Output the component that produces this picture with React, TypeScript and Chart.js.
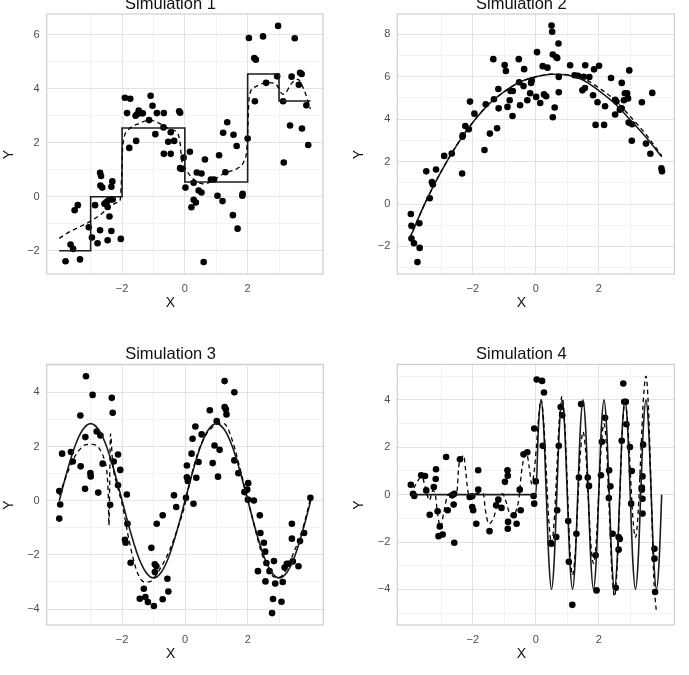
import React, { useEffect, useRef } from "react";
import { Chart, registerables } from "chart.js";

Chart.register(...registerables);

type Pt = [number, number];

// ---------- Simulation 1: step function ----------
const sim1Points: Pt[] = [
  [-3.80, -2.39], [-3.64, -1.77], [-3.56, -1.93], [-3.34, -2.32], [-3.51, -0.50], [-3.41, -0.31],
  [-3.06, -1.13], [-2.96, -1.51], [-2.86, -0.31], [-2.78, -1.72], [-2.70, 0.89], [-2.67, 0.77],
  [-2.69, 0.42], [-2.63, 0.34], [-2.70, -1.24], [-2.56, -0.26], [-2.51, -0.20], [-2.44, -0.14],
  [-2.38, -0.09], [-2.30, -0.10], [-2.46, -0.38], [-2.46, -1.61], [-2.40, -0.73], [-2.34, 0.37],
  [-2.31, 0.57], [-2.34, -1.27], [-2.04, -1.56],
  [-1.91, 3.67], [-1.74, 3.63], [-1.84, 3.10], [-1.77, 1.81], [-1.55, 2.07], [-1.57, 3.00],
  [-1.47, 3.19], [-1.40, 3.10], [-1.34, 3.09], [-1.53, 3.05], [-1.09, 3.74], [-1.03, 3.37],
  [-1.14, 2.84], [-0.89, 3.10], [-0.94, 2.32], [-0.67, 3.10], [-0.68, 2.57], [-0.67, 1.59],
  [-0.53, 2.04], [-0.45, 1.59], [-0.45, 2.39], [-0.34, 2.07], [-0.18, 3.17], [-0.15, 3.11],
  [-0.15, 1.06], [-0.10, 1.03], [-0.04, 1.45],
  [0.02, 0.34], [0.16, 1.67], [0.28, 0.52], [0.21, -0.39], [0.28, -0.11], [0.35, -0.21],
  [0.38, 0.90], [0.44, 0.23], [0.53, 0.16], [0.53, 0.86], [0.64, 1.38], [0.60, -2.42],
  [0.83, 0.64], [0.93, 0.64], [1.04, 0.04], [1.09, 1.54], [1.20, -0.16], [1.22, 2.37],
  [1.29, 0.91], [1.35, 2.76], [1.53, -0.68], [1.55, 2.30], [1.65, 1.88], [1.68, -1.18],
  [1.83, 0.04], [1.84, 0.11], [2.00, 2.16], [2.04, 5.88], [2.21, 5.14], [2.26, 5.08],
  [2.23, 3.54], [2.49, 5.94], [2.59, 4.22], [2.94, 4.46], [2.97, 6.33], [3.13, 3.54],
  [3.15, 1.27], [3.35, 2.64], [3.40, 4.45], [3.50, 5.87], [3.63, 4.15], [3.67, 4.59],
  [3.72, 4.55], [3.73, 2.53], [3.87, 3.39], [3.93, 1.92],
];
const sim1StepEdges = [-4, -3, -2, 0, 2, 3, 4];
const sim1StepLevels = [-2, 0, 2.55, 0.55, 4.55, 3.55];
const sim1Fit: Pt[] = [
  [-4.0, -1.54], [-3.68, -1.30], [-3.36, -1.12], [-3.04, -0.93], [-2.72, -0.69], [-2.40, -0.38],
  [-2.14, -0.20], [-2.06, -0.11], [-2.01, 0.87], [-1.98, 1.83], [-1.82, 2.45], [-1.45, 2.72],
  [-1.13, 2.84], [-0.81, 2.72], [-0.49, 2.51], [-0.22, 2.32], [-0.15, 1.98], [-0.10, 1.37],
  [0.01, 1.06], [0.30, 0.63], [0.62, 0.48], [0.94, 0.64], [1.26, 0.87], [1.68, 1.06],
  [1.89, 1.34], [1.98, 1.86], [2.05, 3.68], [2.21, 4.05], [2.64, 4.23], [2.90, 4.17],
  [3.12, 3.80], [3.22, 3.86], [3.38, 4.17], [3.60, 4.35], [3.81, 3.92], [4.0, 3.25],
];

// ---------- Simulation 2: smooth hump ----------
const sim2Points: Pt[] = [
  [-3.97, -0.47], [-3.95, -1.03], [-3.95, -1.63], [-3.87, -1.85], [-3.76, -2.74], [-3.70, -0.91],
  [-3.69, -2.07], [-3.48, 1.54], [-3.37, 0.27], [-3.30, 1.03], [-3.27, 0.92], [-3.17, 1.63],
  [-2.91, 2.27], [-2.67, 2.38], [-2.33, 3.17], [-2.32, 3.24], [-2.34, 1.44], [-2.24, 3.68],
  [-2.13, 3.53], [-2.09, 4.83], [-1.95, 4.26], [-1.63, 2.55], [-1.59, 4.70], [-1.46, 3.32],
  [-1.35, 6.83], [-1.33, 4.94], [-1.23, 3.57], [-1.19, 5.42], [-1.18, 4.51], [-0.99, 6.55],
  [-0.95, 6.27], [-0.90, 4.58], [-0.83, 4.89], [-0.80, 5.33], [-0.73, 5.33], [-0.74, 4.15],
  [-0.54, 6.83], [-0.53, 5.74], [-0.50, 4.66], [-0.37, 6.36], [-0.39, 5.56], [-0.27, 4.89],
  [-0.18, 5.22], [-0.13, 5.83], [-0.15, 5.71], [0.04, 7.16], [0.01, 5.05],
  [0.14, 4.76], [0.22, 6.50], [0.26, 5.17], [0.33, 5.08], [0.37, 6.43], [0.50, 8.42],
  [0.52, 8.12], [0.54, 7.05], [0.54, 4.09], [0.60, 4.55], [0.65, 6.93], [0.68, 6.88],
  [0.72, 7.57], [0.73, 5.99], [0.73, 5.27], [1.09, 6.54], [1.23, 6.07], [1.34, 6.05],
  [1.48, 5.36], [1.56, 5.47], [1.52, 6.00], [1.57, 6.54], [1.70, 5.99], [1.82, 5.13],
  [1.85, 6.35], [1.90, 3.73], [1.96, 4.80], [2.01, 6.52], [2.17, 3.73], [2.20, 4.61],
  [2.39, 5.94], [2.52, 4.22], [2.52, 4.92], [2.56, 4.83], [2.67, 4.45], [2.73, 4.51],
  [2.73, 5.71], [2.80, 4.89], [2.83, 5.22], [2.90, 5.22], [2.93, 4.98], [2.97, 6.30],
  [2.95, 3.84], [3.06, 3.76], [3.05, 2.98], [3.37, 4.80], [3.50, 2.85], [3.64, 2.37],
  [3.70, 5.24], [3.99, 1.69], [4.01, 1.54],
];
const sim2True: Pt[] = [
  [-4, -1.6], [-3.5, 0.1], [-3, 1.55], [-2.5, 2.8], [-2, 3.85], [-1.5, 4.7], [-1, 5.3],
  [-0.5, 5.75], [0, 6.0], [0.5, 6.12], [1, 6.08], [1.5, 5.85], [2, 5.35], [2.5, 4.75],
  [3, 3.97], [3.5, 3.15], [4, 2.23],
];
const sim2Fit: Pt[] = [
  [-4, -1.6], [-3.5, 0.1], [-3, 1.55], [-2.5, 2.8], [-2, 3.85], [-1.5, 4.7], [-1, 5.3],
  [-0.5, 5.75], [0, 6.0], [0.5, 6.12], [1, 6.1], [1.5, 5.93], [2, 5.48], [2.5, 4.91],
  [3, 4.13], [3.5, 3.28], [4, 2.28],
];

// ---------- Simulation 3: sine wave ----------
const sim3Points: Pt[] = [
  [-4.0, 0.36], [-3.97, -0.14], [-4.0, -0.66], [-3.91, 1.74], [-3.63, 1.80], [-3.57, 1.45],
  [-3.33, 3.15], [-3.32, 1.27], [-3.18, 0.44], [-3.17, 2.35], [-3.15, 4.60], [-3.01, 1.02],
  [-3.00, 0.90], [-2.94, 3.91], [-2.81, 2.56], [-2.76, 0.30], [-2.69, 2.41], [-2.62, 1.37],
  [-2.38, -0.15], [-2.33, 3.80], [-2.30, 3.25], [-2.27, 1.45], [-2.13, 1.71], [-2.06, 1.14],
  [-2.13, 0.57], [-1.85, 0.23], [-1.83, -0.85], [-1.91, -1.44], [-1.89, -1.55], [-1.73, -2.29],
  [-1.44, -3.62], [-1.31, -3.25], [-1.26, -3.56], [-1.18, -3.74], [-1.07, -1.74], [-0.99, -3.89],
  [-0.96, -2.35], [-0.91, -2.42], [-0.96, -2.63], [-0.90, -0.85], [-0.71, -3.64], [-0.71, -0.54],
  [-0.56, -2.88], [-0.53, -3.35], [-0.35, 0.20], [-0.28, -0.23],
  [0.03, 0.11], [0.06, 1.30], [0.06, 0.87], [0.09, 0.73], [0.27, -0.11], [0.21, 1.74],
  [0.24, 2.29], [0.33, 2.74], [0.36, 0.85], [0.43, 1.43], [0.53, 2.45], [0.79, 3.34],
  [0.88, 1.39], [0.94, 2.04], [1.01, 2.94], [1.05, 0.89], [1.10, 1.88], [1.26, 4.42],
  [1.26, 3.46], [1.30, 3.38], [1.32, 3.19], [1.57, 4.01], [1.57, 1.49], [1.70, 1.02],
  [1.89, 0.32], [1.98, 0.41], [2.01, 0.65], [2.00, 0.04], [2.19, 0.01], [2.38, -0.54],
  [2.40, -1.19], [2.51, -1.55], [2.55, -1.88], [2.59, -2.30], [2.32, -2.60], [2.56, -2.98],
  [2.69, -2.60], [2.80, -3.63], [2.77, -4.15], [2.83, -2.23], [2.87, -3.06], [3.07, -3.73],
  [3.11, -3.00], [3.17, -2.47], [3.24, -2.33], [3.30, -2.33], [3.40, -0.85], [3.40, -1.40],
  [3.43, -2.24], [3.61, -2.42], [3.66, -1.49], [3.79, -1.19], [3.99, 0.11],
];
const sim3True: Pt[] = [
  [-4, 0], [-3.75, 1.09], [-3.5, 2.02], [-3.25, 2.63], [-3, 2.85], [-2.75, 2.63], [-2.5, 2.02],
  [-2.25, 1.09], [-2, 0], [-1.75, -1.09], [-1.5, -2.02], [-1.25, -2.63], [-1, -2.85],
  [-0.75, -2.63], [-0.5, -2.02], [-0.25, -1.09], [0, 0], [0.25, 1.09], [0.5, 2.02],
  [0.75, 2.63], [1, 2.85], [1.25, 2.63], [1.5, 2.02], [1.75, 1.09], [2, 0], [2.25, -1.09],
  [2.5, -2.02], [2.75, -2.63], [3, -2.85], [3.25, -2.63], [3.5, -2.02], [3.75, -1.09], [4, 0],
];
const sim3Fit: Pt[] = [
  [-4.0, 0.2], [-3.79, 0.87], [-3.57, 1.49], [-3.36, 1.88], [-3.15, 2.07], [-2.94, 2.08],
  [-2.72, 1.92], [-2.56, 1.49], [-2.48, 1.0], [-2.44, 0.14], [-2.42, -0.91], [-2.37, 2.47],
  [-2.30, 1.37], [-2.14, 0.5], [-1.98, -0.23], [-1.82, -1.22], [-1.66, -2.08], [-1.50, -2.70],
  [-1.29, -3.0], [-1.13, -3.0], [-0.97, -2.82], [-0.76, -2.45], [-0.49, -1.83], [-0.22, -0.97],
  [-0.02, -0.23], [0.19, 0.87], [0.40, 1.74], [0.62, 2.35], [0.88, 2.72], [1.15, 2.87],
  [1.31, 2.78], [1.47, 2.35], [1.63, 1.74], [1.79, 1.0], [1.95, 0.26], [2.11, -0.48],
  [2.27, -1.22], [2.43, -1.90], [2.64, -2.51], [2.85, -2.82], [3.01, -2.82], [3.17, -2.63],
  [3.49, -1.83], [3.76, -0.97], [3.99, 0.07],
];

// ---------- Simulation 4: flat then fast oscillation ----------
const sim4Points: Pt[] = [
  [-3.97, 0.42], [-3.90, 0.04], [-3.86, -0.06], [-3.64, 0.82], [-3.52, 0.79], [-3.48, 0.18],
  [-3.37, -0.85], [-3.24, 0.32], [-3.18, 0.66], [-3.17, 1.07], [-3.12, -0.70], [-3.05, -1.34],
  [-3.09, -1.75], [-2.96, -1.68], [-2.85, 1.59], [-2.80, -0.66], [-2.66, -0.03], [-2.59, 0.04],
  [-2.61, -0.42], [-2.59, -2.03], [-2.41, 1.49], [-2.10, -0.10], [-2.02, -0.07], [-2.02, -0.52],
  [-1.99, -0.66], [-1.89, -1.23], [-1.83, 1.03], [-1.83, 0.21], [-1.47, -1.54], [-1.26, -0.45],
  [-1.19, -0.21], [-1.09, -0.56], [-0.98, 0.54], [-0.90, 1.03], [-0.89, 0.80], [-0.88, -1.15],
  [-0.89, -1.44], [-0.70, -0.87], [-0.61, -1.23], [-0.51, 0.21], [-0.48, -0.66], [-0.39, 1.70],
  [-0.27, 1.79], [-0.07, -0.06], [-0.05, -0.38], [-0.05, 2.79], [0.0, 0.56],
  [0.03, 4.86], [0.20, 4.80], [0.26, 4.31], [0.22, 2.06], [0.47, -2.04], [0.50, -2.07],
  [0.65, -1.79], [0.68, -0.66], [0.73, 2.06], [0.79, 3.70], [0.84, 3.35], [1.03, -1.11],
  [1.05, -2.83], [1.16, -4.65], [1.29, -1.65], [1.37, 0.72], [1.44, 3.82], [1.65, 0.72],
  [1.69, 0.37], [1.90, -2.56], [1.93, -4.04], [2.07, 0.82], [2.10, 2.23], [2.20, 3.24],
  [2.33, 1.03], [2.37, 0.35], [2.32, -0.14], [2.44, -1.65], [2.63, -1.79], [2.67, -1.87],
  [2.63, -2.32], [2.54, -3.93], [2.73, 2.27], [2.78, 4.69], [2.81, 3.92], [2.86, 3.92],
  [2.88, 2.97], [2.99, 2.01], [3.05, 1.0], [3.03, -0.38], [3.37, 0.30], [3.37, 0.21],
  [3.39, 0.77], [3.41, 2.11], [3.39, -0.17], [3.39, -0.80], [3.77, -2.28], [3.77, -2.70],
  [3.79, -4.11],
];
const sim4True: Pt[] = [
  [-4, 0], [0, 0], [0.083, 2.83], [0.167, 4], [0.25, 2.83], [0.333, 0], [0.417, -2.83],
  [0.5, -4], [0.583, -2.83], [0.667, 0], [0.75, 2.83], [0.833, 4], [0.917, 2.83], [1, 0],
  [1.083, -2.83], [1.167, -4], [1.25, -2.83], [1.333, 0], [1.417, 2.83], [1.5, 4],
  [1.583, 2.83], [1.667, 0], [1.75, -2.83], [1.833, -4], [1.917, -2.83], [2, 0],
  [2.083, 2.83], [2.167, 4], [2.25, 2.83], [2.333, 0], [2.417, -2.83], [2.5, -4],
  [2.583, -2.83], [2.667, 0], [2.75, 2.83], [2.833, 4], [2.917, 2.83], [3, 0],
  [3.083, -2.83], [3.167, -4], [3.25, -2.83], [3.333, 0], [3.417, 2.83], [3.5, 4],
  [3.583, 2.83], [3.667, 0], [3.75, -2.83], [3.833, -4], [3.917, -2.83], [4, 0],
];
const sim4Fit: Pt[] = [
  [-3.99, -0.03], [-3.83, 0.39], [-3.62, 0.75], [-3.51, 0.32], [-3.38, -0.24], [-3.27, 0.18],
  [-3.19, -0.03], [-3.12, -0.80], [-3.03, -1.37], [-2.93, -0.80], [-2.82, -0.10], [-2.71, 0.04],
  [-2.61, -0.10], [-2.50, 0.18], [-2.45, 1.17], [-2.34, 1.59], [-2.29, 1.66], [-2.23, 1.03],
  [-2.16, 0.18], [-2.05, -0.17], [-1.91, 0.04], [-1.81, 0.04], [-1.67, 0.04], [-1.60, -0.66],
  [-1.49, -1.23], [-1.33, -0.94], [-1.22, -0.38], [-1.06, 0.04], [-0.96, -0.24], [-0.85, -0.73],
  [-0.74, -0.94], [-0.64, -0.73], [-0.53, -0.10], [-0.46, 0.89], [-0.37, 1.59], [-0.29, 1.73],
  [-0.21, 1.17], [-0.13, 0.46], [-0.05, 1.0], [0.03, 2.2], [0.1, 3.4], [0.167, 4.0],
  [0.25, 3.11], [0.333, 0.98], [0.417, -1.16], [0.5, -2.05], [0.583, -1.14], [0.667, 1.05],
  [0.75, 3.24], [0.833, 4.15], [0.917, 3.04], [1.0, 0.38], [1.083, -2.29], [1.167, -3.4],
  [1.25, -2.51], [1.333, -0.38], [1.417, 1.76], [1.5, 2.65], [1.583, 1.84], [1.667, -0.13],
  [1.75, -2.09], [1.833, -2.9], [1.917, -2.04], [2.0, 0.05], [2.083, 2.14], [2.167, 3.0],
  [2.25, 1.93], [2.333, -0.65], [2.417, -3.23], [2.5, -4.3], [2.583, -3.10], [2.667, -0.2],
  [2.75, 2.70], [2.833, 3.9], [2.917, 3.06], [3.0, 1.05], [3.083, -0.96], [3.167, -1.8],
  [3.25, -0.80], [3.333, 1.6], [3.417, 4.0], [3.5, 5.0], [3.583, 3.54], [3.667, 0.0],
  [3.75, -3.54], [3.833, -5.0],
];

// ---------- Axes ----------
const xMajorTicks = [-2, 0, 2];
const xMinorTicks = [-3, -1, 1, 3];
const xLimits: Pt = [-4.4, 4.4];

const sim1YMajor = [-2, 0, 2, 4, 6];
const sim1YMinor = [-1, 1, 3, 5];
const sim1YLimits: Pt = [-2.86, 6.77];
const sim2YMajor = [-2, 0, 2, 4, 6, 8];
const sim2YMinor = [-3, -1, 1, 3, 5, 7];
const sim2YLimits: Pt = [-3.3, 8.96];
const sim3YMajor = [-4, -2, 0, 2, 4];
const sim3YMinor = [-3, -1, 1, 3, 5];
const sim3YLimits: Pt = [-4.59, 5.04];
const sim4YMajor = [-4, -2, 0, 2, 4];
const sim4YMinor = [-5, -3, -1, 1, 3, 5];
const sim4YLimits: Pt = [-5.5, 5.5];

// Step function corners built from its edges and levels
function stepCorners(edges: number[], levels: number[]): Pt[] {
  const out: Pt[] = [];
  levels.forEach((lv, i) => {
    out.push([edges[i], lv]);
    out.push([edges[i + 1], lv]);
  });
  return out;
}

interface PanelSpec {
  title: string;
  points: Pt[];
  truth: Pt[];
  truthSmooth: boolean;
  fit: Pt[];
  yLimits: Pt;
  yMajor: number[];
  yMinor: number[];
}

interface Box {
  left: number;
  top: number;
  w: number;
  h: number;
  padTop: number;
  padRight: number;
  yAxisW: number;
  xAxisH: number;
}

const PANELS: PanelSpec[] = [
  { title: "Simulation 1", points: sim1Points, truth: stepCorners(sim1StepEdges, sim1StepLevels), truthSmooth: false, fit: sim1Fit, yLimits: sim1YLimits, yMajor: sim1YMajor, yMinor: sim1YMinor },
  { title: "Simulation 2", points: sim2Points, truth: sim2True, truthSmooth: true, fit: sim2Fit, yLimits: sim2YLimits, yMajor: sim2YMajor, yMinor: sim2YMinor },
  { title: "Simulation 3", points: sim3Points, truth: sim3True, truthSmooth: true, fit: sim3Fit, yLimits: sim3YLimits, yMajor: sim3YMajor, yMinor: sim3YMinor },
  { title: "Simulation 4", points: sim4Points, truth: sim4True, truthSmooth: true, fit: sim4Fit, yLimits: sim4YLimits, yMajor: sim4YMajor, yMinor: sim4YMinor },
];

const BOXES: Box[] = [
  { left: 0, top: 0, w: 345, h: 337, padTop: 14, padRight: 22, yAxisW: 46.7, xAxisH: 63 },
  { left: 345, top: 0, w: 344, h: 337, padTop: 14, padRight: 14.7, yAxisW: 52.3, xAxisH: 63 },
  { left: 0, top: 337, w: 345, h: 338, padTop: 27.3, padRight: 21.7, yAxisW: 46.7, xAxisH: 50 },
  { left: 345, top: 337, w: 344, h: 338, padTop: 27.3, padRight: 14.7, yAxisW: 52.3, xAxisH: 50 },
];

const FONT = '"Liberation Sans", Arial, Helvetica, sans-serif';
const MAJOR_GRID = "#e3e3e3";
const MINOR_GRID = "#f2f2f2";

const fmt = (v: number) => (v < 0 ? "\u2212" + Math.abs(v) : String(v));

const panelDecor = {
  id: "panelDecor",
  beforeDraw(chart: any) {
    const { ctx, width, height } = chart;
    ctx.save();
    ctx.fillStyle = "#ffffff";
    ctx.fillRect(0, 0, width, height);
    ctx.restore();
  },
  afterDraw(chart: any, _args: any, opts: any) {
    const { ctx, chartArea: a } = chart;
    ctx.save();
    ctx.strokeStyle = "#c4c4c4";
    ctx.lineWidth = 1;
    ctx.strokeRect(a.left, a.top, a.right - a.left, a.bottom - a.top);

    const cx = (a.left + a.right) / 2 - 14.4;
    ctx.fillStyle = "#111111";
    ctx.textAlign = "center";
    ctx.font = `16.5px ${FONT}`;
    ctx.textBaseline = "alphabetic";
    ctx.fillText(opts.title, cx, a.top - 5);

    ctx.font = `14px ${FONT}`;
    ctx.textBaseline = "middle";
    ctx.fillText("X", cx, a.bottom + 29);
    ctx.translate(a.left - 38, (a.top + a.bottom) / 2 + 10.5);
    ctx.rotate(-Math.PI / 2);
    ctx.fillText("Y", 0, 0);
    ctx.restore();
  },
};

function toXY(pts: Pt[]) {
  return pts.map(([x, y]) => ({ x, y }));
}

function Panel({ spec, box }: { spec: PanelSpec; box: Box }) {
  const ref = useRef<HTMLCanvasElement>(null);

  useEffect(() => {
    if (!ref.current) return;
    const xTicks = [...xMajorTicks, ...xMinorTicks].sort((a, b) => a - b);
    const yTicks = [...spec.yMajor, ...spec.yMinor].sort((a, b) => a - b);
    const tickFont = { family: FONT, size: 11 };

    const chart = new Chart(ref.current, {
      type: "scatter",
      data: {
        datasets: [
          {
            data: toXY(spec.fit),
            showLine: true,
            borderColor: "#000000",
            borderWidth: 1.3,
            borderDash: [4.5, 3.5],
            pointRadius: 0,
            cubicInterpolationMode: "monotone",
            order: 0,
          } as any,
          {
            data: toXY(spec.truth),
            showLine: true,
            borderColor: "#1c1c1c",
            borderWidth: 1.6,
            pointRadius: 0,
            cubicInterpolationMode: spec.truthSmooth ? "monotone" : "default",
            tension: 0,
            order: 1,
          } as any,
          {
            data: toXY(spec.points),
            pointRadius: 3.3,
            pointBackgroundColor: "#000000",
            pointBorderWidth: 0,
            order: 2,
          } as any,
        ],
      },
      options: {
        responsive: false,
        animation: false,
        devicePixelRatio: 1,
        events: [],
        layout: { padding: { top: box.padTop, right: box.padRight, left: 0, bottom: 0 } },
        plugins: {
          legend: { display: false },
          tooltip: { enabled: false },
          panelDecor: { title: spec.title },
        } as any,
        scales: {
          x: {
            type: "linear",
            min: xLimits[0],
            max: xLimits[1],
            afterBuildTicks: (scale: any) => {
              scale.ticks = xTicks.map((v) => ({ value: v }));
            },
            afterFit: (scale: any) => {
              scale.height = box.xAxisH;
            },
            ticks: {
              autoSkip: false,
              maxRotation: 0,
              padding: 8,
              color: "#4d4d4d",
              font: tickFont,
              callback: (v: any) => (xMajorTicks.includes(Number(v)) ? fmt(Number(v)) : ""),
            },
            grid: {
              drawTicks: false,
              color: (c: any) => (xMajorTicks.includes(c.tick?.value) ? MAJOR_GRID : MINOR_GRID),
            },
            border: { display: false },
          },
          y: {
            type: "linear",
            min: spec.yLimits[0],
            max: spec.yLimits[1],
            afterBuildTicks: (scale: any) => {
              scale.ticks = yTicks.map((v) => ({ value: v }));
            },
            afterFit: (scale: any) => {
              scale.width = box.yAxisW;
            },
            ticks: {
              autoSkip: false,
              padding: 7,
              color: "#4d4d4d",
              font: tickFont,
              callback: (v: any) => (spec.yMajor.includes(Number(v)) ? fmt(Number(v)) : ""),
            },
            grid: {
              drawTicks: false,
              color: (c: any) => (spec.yMajor.includes(c.tick?.value) ? MAJOR_GRID : MINOR_GRID),
            },
            border: { display: false },
          },
        },
      },
      plugins: [panelDecor],
    } as any);

    return () => chart.destroy();
  }, [spec, box]);

  return (
    <canvas
      ref={ref}
      width={box.w}
      height={box.h}
      style={{ position: "absolute", left: box.left, top: box.top, width: box.w, height: box.h }}
    />
  );
}

export default function App() {
  return (
    <div
      style={{
        position: "fixed",
        left: 0,
        top: 0,
        width: 689,
        height: 675,
        background: "#ffffff",
        overflow: "hidden",
      }}
    >
      {PANELS.map((spec, i) => (
        <Panel key={spec.title} spec={spec} box={BOXES[i]} />
      ))}
    </div>
  );
}
